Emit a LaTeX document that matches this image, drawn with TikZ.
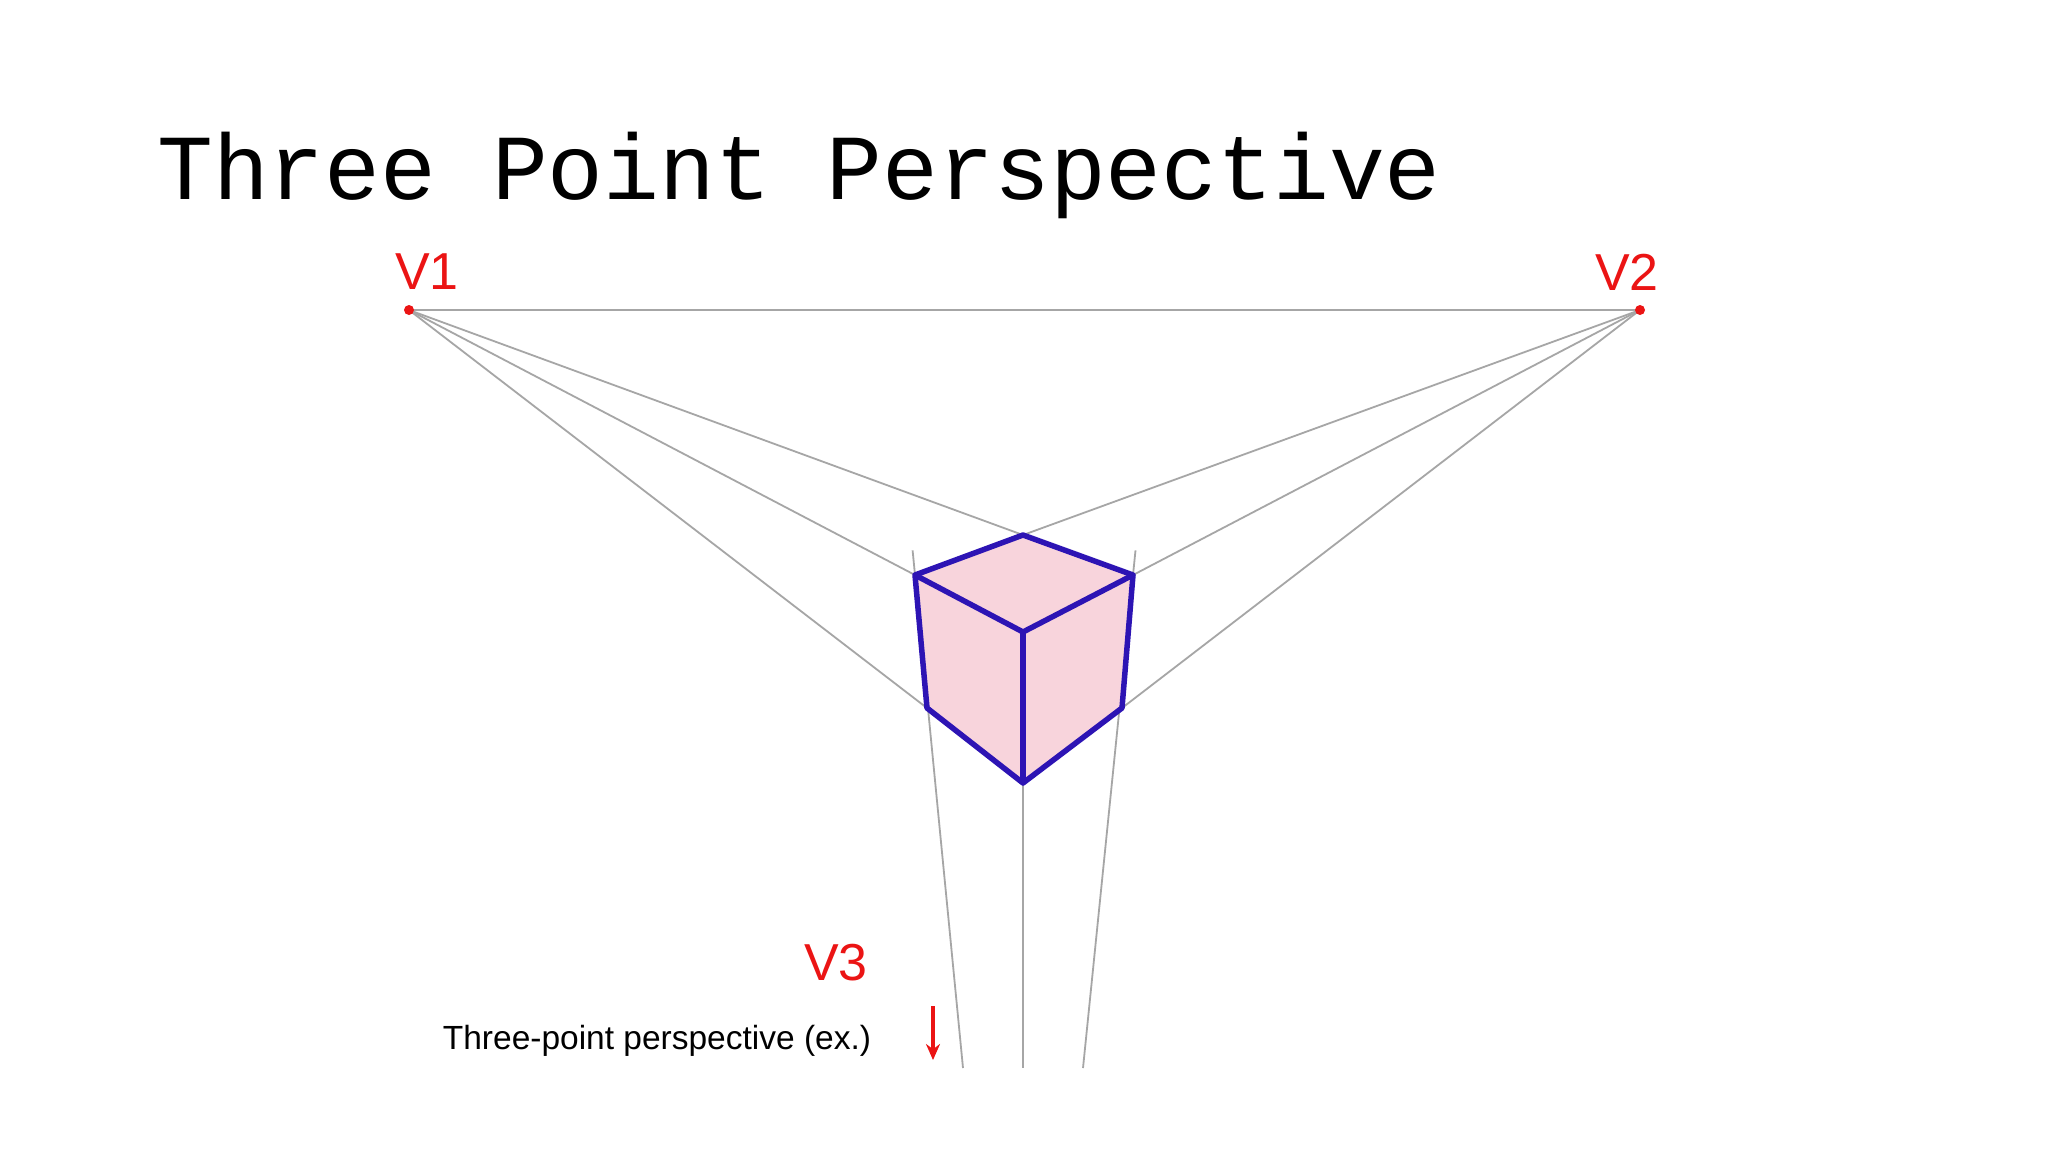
\documentclass[tikz,border=0pt]{standalone}
\usepackage{fontspec}
\setmainfont{Liberation Sans}
\newfontfamily\monof{Liberation Mono}
\usetikzlibrary{calc,arrows.meta}
\definecolor{cubeedge}{RGB}{45,20,180}
\definecolor{cubefill}{RGB}{248,212,220}
\definecolor{vred}{RGB}{235,20,20}
\begin{document}
\begin{tikzpicture}[x=1pt,y=-1pt,
  guide/.style={draw=gray!70,line width=1.8pt},
  edge/.style={draw=cubeedge,line width=5.5pt,line join=round},
  vlab/.style={text=vred,font=\fontsize{52}{52}\selectfont,inner sep=0pt}]
\useasboundingbox (0,0) rectangle (2048,1152);
\fill[white] (0,0) rectangle (2048,1152);
\node[anchor=base west,inner sep=0pt,font=\monof\fontsize{93}{93}\selectfont] (title) at (157,199) {Three Point Perspective};
\coordinate (V1) at (409,310);
\coordinate (V2) at (1640,310);
\coordinate (T) at (1023,535);
\coordinate (L) at (915,575);
\coordinate (R) at (1133,575);
\coordinate (C) at (1023,632);
\coordinate (BL) at (927,708);
\coordinate (BR) at (1122,708);
\coordinate (B) at (1023,783);
\coordinate (D1) at (963,1068);
\coordinate (D2) at (1023,1068);
\coordinate (D3) at (1083,1068);
% guides
\draw[guide] (V1) -- (V2);
\draw[guide] (V1) -- (T);
\draw[guide] (V1) -- ($(V1)!1.05!(L)$);
\draw[guide] (V1) -- (BL);
\draw[guide] (V2) -- (T);
\draw[guide] (V2) -- ($(V2)!1.05!(R)$);
\draw[guide] (V2) -- (BR);
\draw[guide] ($(D1)!1.05!(L)$) -- (D1);
\draw[guide] (C) -- (D2);
\draw[guide] ($(D3)!1.05!(R)$) -- (D3);
\fill[vred] (V1) circle (5);
\fill[vred] (V2) circle (5);
% cube
\fill[cubefill] (T) -- (R) -- (BR) -- (B) -- (BL) -- (L) -- cycle;
\draw[edge] (T) -- (R) -- (BR) -- (B) -- (BL) -- (L) -- cycle;
\draw[edge] (L) -- (C) -- (R);
\draw[edge] (C) -- (B);
% labels
\node[vlab] (v1) at (427,272) {V1};
\node[vlab] (v2) at (1627,272) {V2};
\node[vlab] (v3) at (836,963) {V3};
\coordinate (a1) at (933,1006);
\coordinate (a2) at (933,1060);
\draw[vred,line width=4pt,-{Stealth[length=16pt,width=14pt]}] (a1) -- (a2);
\node[inner sep=0pt,font=\fontsize{33.5}{34}\selectfont] (cap) at (657,1041) {Three-point perspective (ex.)};
\end{tikzpicture}
\end{document}
